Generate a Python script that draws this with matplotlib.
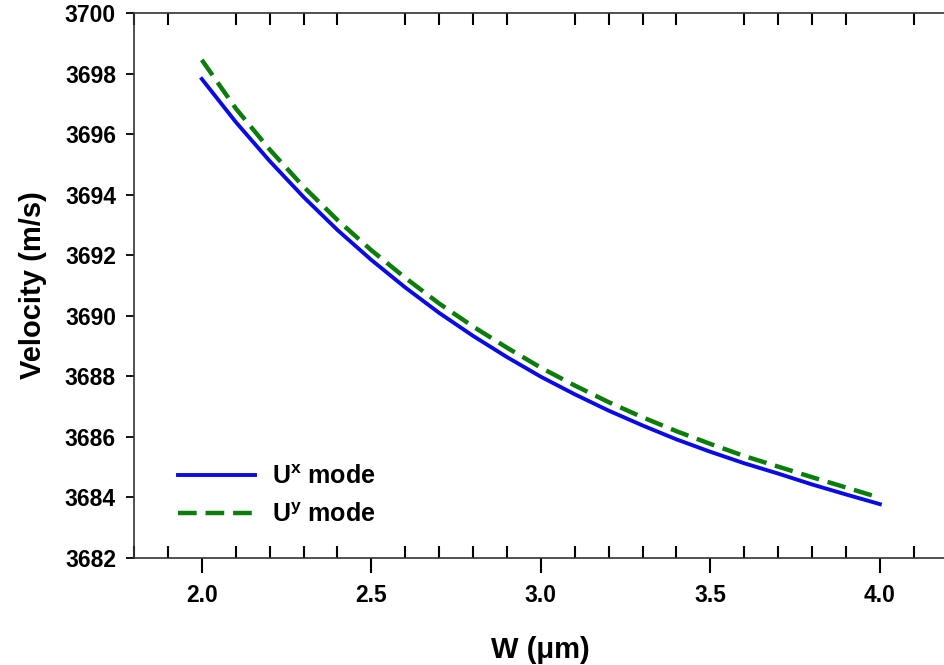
import matplotlib
matplotlib.use("Agg")
import matplotlib.pyplot as plt
from matplotlib.ticker import MultipleLocator

plt.rcParams['font.family'] = ['Liberation Sans', 'DejaVu Sans']
plt.rcParams['font.weight'] = 'bold'
plt.rcParams['mathtext.fontset'] = 'custom'
plt.rcParams['mathtext.bf'] = 'Liberation Sans:bold'
plt.rcParams['mathtext.rm'] = 'Liberation Sans:bold'
plt.rcParams['mathtext.it'] = 'Liberation Sans:bold'

# width W (um)
w = [2.0, 2.1, 2.2, 2.3, 2.4, 2.5, 2.6, 2.7, 2.8, 2.9, 3.0,
     3.1, 3.2, 3.3, 3.4, 3.5, 3.6, 3.7, 3.8, 3.9, 4.0]

# velocity (m/s)
ux_mode = [3697.82, 3696.40, 3695.11, 3693.92, 3692.83, 3691.84, 3690.93,
           3690.09, 3689.33, 3688.63, 3687.98, 3687.40, 3686.86, 3686.37,
           3685.91, 3685.50, 3685.12, 3684.78, 3684.42, 3684.09, 3683.77]
uy_mode = [3698.45, 3696.85, 3695.49, 3694.26, 3693.16, 3692.16, 3691.25,
           3690.40, 3689.64, 3688.94, 3688.28, 3687.69, 3687.14, 3686.64,
           3686.18, 3685.76, 3685.36, 3685.01, 3684.66, 3684.32, 3683.98]

fig = plt.figure(figsize=(9.44, 6.65), dpi=100)
ax = fig.add_axes([134 / 944, 107.3 / 665, 813.7 / 944, 544.7 / 665])

ax.plot(w, ux_mode, color='#0a0ae6', lw=2.8, label=r'$\mathbf{U^x}$ mode')
ax.plot(w, uy_mode, color='#0b7d0b', lw=3.2, dashes=(4.2, 2.0),
        label=r'$\mathbf{U^y}$ mode')

ax.set_xlim(1.8, 4.2)
ax.set_ylim(3682, 3700)
ax.xaxis.set_major_locator(MultipleLocator(0.5))
ax.xaxis.set_minor_locator(MultipleLocator(0.1))
ax.yaxis.set_major_locator(MultipleLocator(2))

for s in ['left', 'bottom', 'top']:
    ax.spines[s].set_linewidth(1.2)
    ax.spines[s].set_color('#333333')
ax.spines['right'].set_visible(False)

ax.tick_params(axis='x', which='major', direction='out', length=11, width=1.5,
               pad=8, labelsize=16.5, top=False)
ax.tick_params(axis='x', which='minor', direction='in', length=8.5, width=1.5,
               top=True, bottom=True)
ax.tick_params(axis='y', which='major', direction='out', length=6, width=1.3,
               pad=7, labelsize=16.5)
ax.set_xticklabels([f'{v:.1f}' for v in ax.get_xticks()])

ax.set_xlabel('W (\u03bcm)', fontsize=21, fontweight='bold', labelpad=21)
ax.set_ylabel('Velocity (m/s)', fontsize=21, fontweight='bold', labelpad=13)

ax.legend(loc='upper left', bbox_to_anchor=(0.054, 0.17), frameon=False,
          fontsize=18, handlelength=3.1, handletextpad=0.65, labelspacing=0.55,
          borderpad=0, borderaxespad=0)

fig.savefig('out.png', dpi=100)
